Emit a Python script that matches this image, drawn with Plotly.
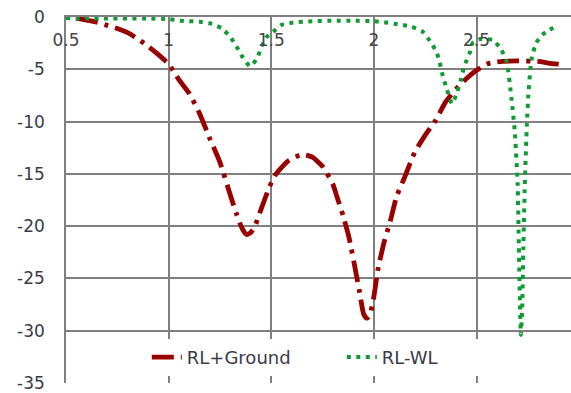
import plotly.graph_objects as go

# Return loss (dB) versus frequency (GHz)
rl_ground_f = [0.55, 0.6, 0.65, 0.7, 0.75, 0.8, 0.85, 0.9, 0.95, 1.0, 1.05, 1.1, 1.15,
               1.2, 1.25, 1.3, 1.33, 1.36, 1.38, 1.40, 1.42, 1.45, 1.49, 1.52, 1.58,
               1.65, 1.7, 1.75, 1.8, 1.82, 1.85, 1.88, 1.91, 1.93, 1.95, 1.965, 1.98,
               2.0, 2.02, 2.05, 2.08, 2.11, 2.15, 2.2, 2.25, 2.3, 2.35, 2.4, 2.45,
               2.5, 2.55, 2.6, 2.7, 2.8, 2.85, 2.9]
rl_ground_db = [-0.1, -0.3, -0.5, -0.8, -1.1, -1.5, -2.1, -2.8, -3.6, -4.5, -6.0, -7.3, -9.2,
                -11.6, -13.9, -17.0, -18.8, -20.3, -20.8, -20.6, -20.0, -18.4, -16.3, -15.1, -13.8,
                -13.15, -13.4, -14.3, -16.0, -17.2, -19.0, -21.2, -24.2, -26.3, -28.4, -28.8, -28.5,
                -26.7, -24.1, -21.5, -19.5, -17.2, -15.3, -12.9, -11.3, -9.9, -8.1, -6.9, -5.9,
                -5.1, -4.5, -4.3, -4.2, -4.25, -4.4, -4.5]

rl_wl_f = [0.5, 0.6, 0.7, 0.8, 0.9, 1.0, 1.055, 1.1, 1.15, 1.2, 1.26, 1.30, 1.33, 1.362,
           1.396, 1.43, 1.453, 1.478, 1.51, 1.55, 1.6, 1.7, 1.8, 1.9, 2.0, 2.05, 2.1,
           2.18, 2.237, 2.28, 2.306, 2.32, 2.335, 2.355, 2.38, 2.40, 2.425, 2.44, 2.467,
           2.48, 2.52, 2.58, 2.62, 2.647, 2.67, 2.686, 2.70, 2.706, 2.712, 2.716, 2.722,
           2.728, 2.735, 2.745, 2.752, 2.762, 2.77, 2.79, 2.82, 2.85, 2.885]
rl_wl_db = [-0.1, -0.15, -0.15, -0.15, -0.15, -0.2, -0.35, -0.4, -0.45, -0.6, -1.1, -1.9, -2.8, -3.9,
            -4.7, -4.0, -2.8, -1.9, -1.4, -0.75, -0.55, -0.4, -0.35, -0.35, -0.4, -0.5, -0.65,
            -0.9, -1.4, -2.5, -3.4, -4.3, -5.6, -6.9, -8.3, -7.5, -5.9, -4.7, -3.4,
            -2.5, -2.1, -2.2, -3.1, -4.3, -7.8, -10.9, -16.0, -22.0, -28.0, -30.4, -28.0,
            -22.0, -16.0, -10.3, -7.5, -5.0, -3.8, -2.5, -1.7, -1.3, -0.9]

y_ticks = [0, -5, -10, -15, -20, -25, -30, -35]
y_labels = ["0", "-5", "-10", "-15", "-20", "-25", "-30", "-35"]
x_ticks = [0.5, 1, 1.5, 2, 2.5]
x_labels = ["0.5", "1", "1.5", "2", "2.5"]

RED = "#990000"
GREEN = "#0f9a33"
GRID = "#808080"
TEXT = "#3a3a48"

fig = go.Figure()
fig.add_trace(go.Scatter(
    x=rl_ground_f, y=rl_ground_db, name="RL+Ground", mode="lines",
    line=dict(color=RED, width=4.8, dash="22px,7px,4px,7px", shape="spline", smoothing=0.6),
))
fig.add_trace(go.Scatter(
    x=rl_wl_f, y=rl_wl_db, name="RL-WL", mode="lines",
    line=dict(color=GREEN, width=4, dash="4px,5.5px", shape="spline", smoothing=0.5),
))

fig.update_layout(
    width=571, height=393,
    margin=dict(l=66, r=0, t=17, b=5),
    paper_bgcolor="white", plot_bgcolor="white",
    font=dict(family="DejaVu Sans", size=17, color=TEXT),
    legend=dict(
        orientation="h", x=0.16, y=0.07, xanchor="left", yanchor="middle",
        bgcolor="white", font=dict(size=18, color=TEXT), entrywidth=150,
        entrywidthmode="pixels",
    ),
    xaxis=dict(
        range=[0.5, 2.96], side="top", tickvals=x_ticks, ticktext=x_labels,
        ticklabelposition="inside", ticks="", ticklabelstandoff=18,
        ticklabeloverflow="allow",
        showgrid=True, gridcolor=GRID, gridwidth=1.6,
        showline=True, linecolor=GRID, linewidth=1.6, zeroline=False,
    ),
    yaxis=dict(
        range=[-35, 0], tickvals=y_ticks, ticktext=y_labels, ticks="",
        ticklabelstandoff=16, ticklabeloverflow="allow",
        showgrid=True, gridcolor=GRID, gridwidth=1.6,
        showline=True, linecolor=GRID, linewidth=1.6, zeroline=False,
    ),
)

fig.write_html("out.html")
